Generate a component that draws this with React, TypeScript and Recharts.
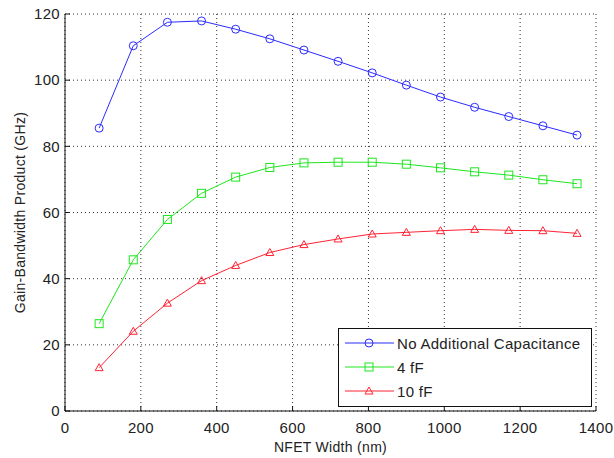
import React from "react";
import { LineChart, Line, XAxis, YAxis, CartesianGrid, Legend } from "recharts";

// NFET width (nm) sweep
const widths = [90, 180, 270, 360, 450, 540, 630, 720, 810, 900, 990, 1080, 1170, 1260, 1350];

// gain-bandwidth product (GHz) per load
const noCap = [85.5, 110.4, 117.5, 117.9, 115.4, 112.5, 109.1, 105.7, 102.2, 98.5, 94.9, 91.8, 89.0, 86.2, 83.4];
const cap4 = [26.4, 45.7, 57.9, 65.8, 70.7, 73.6, 75.0, 75.2, 75.2, 74.6, 73.5, 72.3, 71.3, 69.9, 68.7];
const cap10 = [13.1, 24.1, 32.6, 39.4, 44.0, 47.9, 50.3, 52.0, 53.5, 54.0, 54.5, 54.9, 54.6, 54.5, 53.7];

const xTicks = [0, 200, 400, 600, 800, 1000, 1200, 1400];
const yTicks = [0, 20, 40, 60, 80, 100, 120];

const data = widths.map((w, i) => ({ w, noCap: noCap[i], cap4: cap4[i], cap10: cap10[i] }));

const BLUE = "#2b2bff";
const GREEN = "#1fe61f";
const RED = "#ff2233";
const FONT = '"Liberation Sans", Arial, sans-serif';

const Circle = ({ cx, cy, color }: any) => (
  <circle cx={cx} cy={cy} r={4} fill="none" stroke={color} strokeWidth={1} />
);
const Square = ({ cx, cy, color }: any) => (
  <rect x={cx - 4} y={cy - 4} width={8} height={8} fill="none" stroke={color} strokeWidth={1} />
);
const Triangle = ({ cx, cy, color }: any) => (
  <path d={`M${cx},${cy - 4} L${cx + 4},${cy + 3} L${cx - 4},${cy + 3} Z`} fill="none" stroke={color} strokeWidth={1} />
);

const markers: Record<string, any> = { noCap: Circle, cap4: Square, cap10: Triangle };
const legendOrder = ["noCap", "cap4", "cap10"];

const LegendBox = ({ payload }: any) => {
  const items = [...(payload || [])].sort(
    (a: any, b: any) => legendOrder.indexOf(a.dataKey) - legendOrder.indexOf(b.dataKey)
  );
  return (
    <div
      style={{
        border: "1px solid #111",
        background: "#fff",
        width: 252,
        height: 75,
        fontFamily: FONT,
        fontSize: 15,
        letterSpacing: 0.3,
        color: "#222",
        paddingTop: 2,
        boxSizing: "content-box",
      }}
    >
      {items.map((p: any) => {
        const M = markers[p.dataKey];
        return (
          <div key={p.dataKey} style={{ display: "flex", alignItems: "center", height: 24 }}>
            <svg width={58} height={24} style={{ flex: "none" }}>
              <line x1={6} y1={12} x2={55} y2={12} stroke={p.color} strokeWidth={1} />
              <M cx={30} cy={12} color={p.color} />
            </svg>
            <span>{p.value}</span>
          </div>
        );
      })}
    </div>
  );
};

export default function App() {
  const tickStyle = { fontFamily: FONT, fontSize: 15, letterSpacing: 0.3, fill: "#222" };
  return (
    <div style={{ background: "#fff", width: 614, height: 458 }}>
      <style>{"body{margin:0}"}</style>
      <LineChart width={614} height={458} data={data} margin={{ top: 14, right: 18, bottom: 0, left: 0 }}>
        <CartesianGrid stroke="#333" strokeDasharray="1 3" />
        <XAxis
          dataKey="w"
          type="number"
          domain={[0, 1400]}
          ticks={xTicks}
          height={47}
          stroke="#111"
          tickSize={-5}
          tickMargin={16}
          tick={tickStyle}
          label={{ value: "NFET Width (nm)", position: "insideBottom", offset: 6, style: { ...tickStyle, fontSize: 14 } }}
        />
        <XAxis xAxisId="top" dataKey="w" type="number" orientation="top" domain={[0, 1400]} ticks={xTicks} height={0} stroke="#111" tickSize={-5} tickFormatter={() => ""} />
        <YAxis
          type="number"
          domain={[0, 120]}
          ticks={yTicks}
          width={65}
          stroke="#111"
          tickSize={-5}
          tickMargin={10}
          tick={tickStyle}
          label={{ value: "Gain-Bandwidth Product (GHz)", angle: -90, position: "insideLeft", offset: 20, style: { ...tickStyle, fontSize: 14, textAnchor: "middle" } }}
        />
        <YAxis yAxisId="right" orientation="right" type="number" domain={[0, 120]} ticks={yTicks} width={0} stroke="#111" tickSize={-5} tickFormatter={() => ""} />
        <Legend
          layout="vertical"
          align="center"
          verticalAlign="middle"
          wrapperStyle={{ left: 338, top: 328, width: 254, height: 77 }}
          content={<LegendBox />}
        />
        <Line dataKey="noCap" name="No Additional Capacitance" stroke={BLUE} strokeWidth={1} isAnimationActive={false}
          dot={(p: any) => <Circle key={p.index} cx={p.cx} cy={p.cy} color={BLUE} />} />
        <Line dataKey="cap4" name="4 fF" stroke={GREEN} strokeWidth={1} isAnimationActive={false}
          dot={(p: any) => <Square key={p.index} cx={p.cx} cy={p.cy} color={GREEN} />} />
        <Line dataKey="cap10" name="10 fF" stroke={RED} strokeWidth={1} isAnimationActive={false}
          dot={(p: any) => <Triangle key={p.index} cx={p.cx} cy={p.cy} color={RED} />} />
      </LineChart>
    </div>
  );
}
